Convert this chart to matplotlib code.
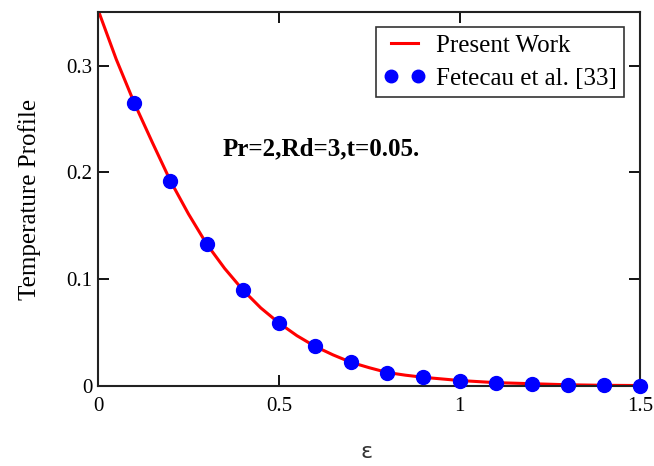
import numpy as np
import matplotlib
matplotlib.use("Agg")
import matplotlib.pyplot as plt

# curve
eps_line = [0.0, 0.05, 0.1, 0.15, 0.2, 0.25, 0.3, 0.35, 0.4, 0.45, 0.5, 0.55, 0.6,
            0.65, 0.7, 0.75, 0.8, 0.85, 0.9, 1.0, 1.1, 1.2, 1.3, 1.4, 1.5]
temp_line = [0.352, 0.306, 0.265, 0.228, 0.192, 0.161, 0.133, 0.110, 0.090, 0.073,
             0.059, 0.047, 0.037, 0.029, 0.022, 0.017, 0.0125, 0.010, 0.008, 0.005,
             0.003, 0.002, 0.001, 0.0005, 0.0003]

# Fetecau et al. points
eps_pts = [0.1, 0.2, 0.3, 0.4, 0.5, 0.6, 0.7, 0.8, 0.9, 1.0, 1.1, 1.2, 1.3, 1.4, 1.5]
temp_pts = [0.265, 0.192, 0.133, 0.090, 0.059, 0.037, 0.022, 0.0125, 0.008, 0.005,
            0.003, 0.002, 0.001, 0.0005, 0.0003]

plt.rcParams['font.family'] = ['Liberation Serif', 'DejaVu Serif']

fig = plt.figure(figsize=(6.54, 4.66), dpi=100)
ax = fig.add_axes([0.150, 0.172, 0.829, 0.802])

ax.plot(eps_line, temp_line, color='red', lw=2.2, label='Present Work', zorder=2)
ax.plot(eps_pts, temp_pts, 'o', color='blue', ms=10, label='Fetecau et al. [33]',
        zorder=3, clip_on=False)

ax.set_xlim(0, 1.5)
ax.set_ylim(0, 0.35)
ax.set_xticks([0, 0.5, 1, 1.5])
ax.set_xticklabels(['0', '0.5', '1', '1.5'])
ax.set_yticks([0, 0.1, 0.2, 0.3])
ax.set_yticklabels(['0', '0.1', '0.2', '0.3'])
ax.tick_params(direction='in', length=8, width=1.3, top=True, right=True,
               labelsize=15)
ax.tick_params(axis='x', pad=8)
ax.tick_params(axis='y', pad=4)
for s in ax.spines.values():
    s.set_linewidth(1.5)
    s.set_color('#222222')

fig.text(367 / 654, 1 - 452 / 466, 'ε', fontsize=16, family='DejaVu Sans',
         ha='center', va='center', color='#333333')
ax.set_ylabel('Temperature Profile', fontsize=18, labelpad=18)

ax.text(0.345, 0.222, 'Pr=2,Rd=3,t=0.05.', fontsize=18, fontweight='bold',
        va='center', transform=ax.transData)

leg = ax.legend(loc='upper right', bbox_to_anchor=(0.97, 0.96), numpoints=2,
                fontsize=18, frameon=True, fancybox=False, edgecolor='black',
                borderpad=0.3, handlelength=1.7, handletextpad=0.4, labelspacing=0.4,
                borderaxespad=0, markerscale=0.9)
leg.get_frame().set_linewidth(1.2)

fig.savefig('out.png', dpi=100)
